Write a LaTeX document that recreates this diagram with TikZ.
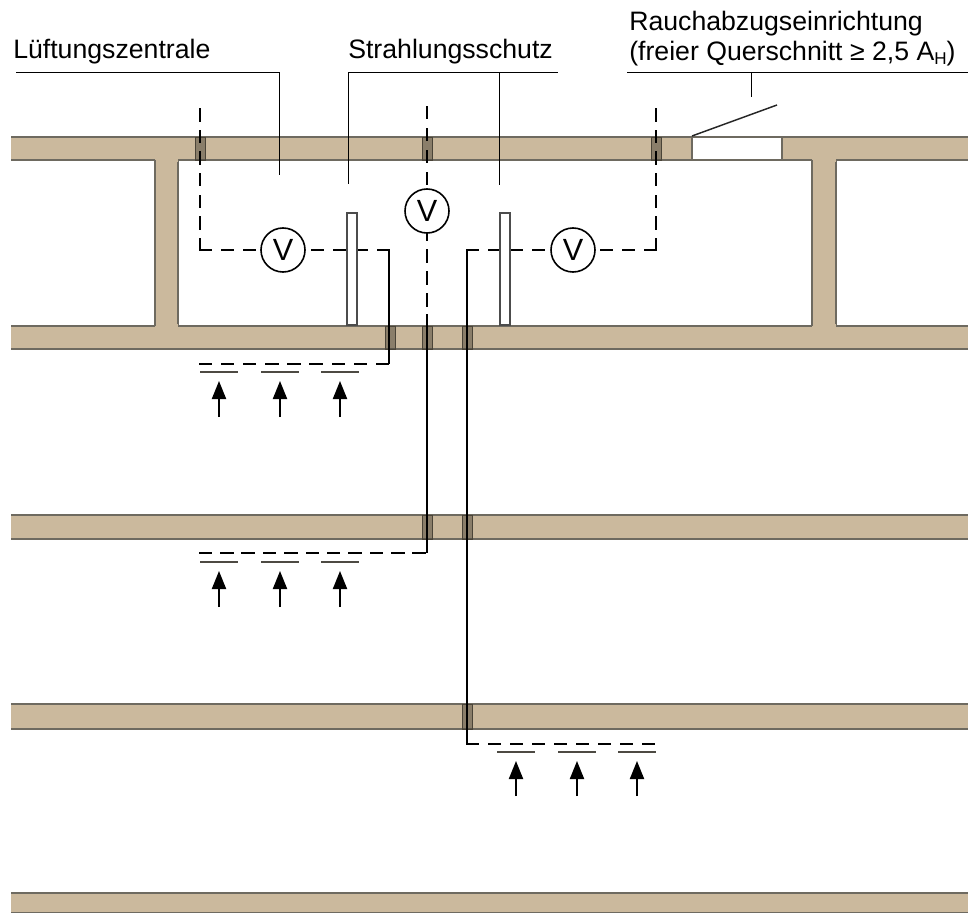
\documentclass[tikz,border=0pt]{standalone}
\usepackage{fontspec}
\setmainfont{Liberation Sans}
\usetikzlibrary{arrows.meta}
\definecolor{beton}{HTML}{cbb99d}
\definecolor{kante}{HTML}{6e6a60}
\definecolor{huelse}{HTML}{4a4438}

\begin{document}
\begin{tikzpicture}[x=0.75pt,y=-0.75pt,
        kante/.style={draw=kante,line width=0.9pt},
        beschriftung/.style={anchor=base west,inner sep=0pt,font=\fontsize{20}{22.5}\selectfont},
        hinweis/.style={draw=black,line width=0.75pt},
        kanal/.style={draw=black,line width=1.9pt},
        strang/.style={kanal,line cap=rect,dash pattern=on 8.2pt off #1},
        strang/.default=8.3pt,
        ventilator/.style={circle,draw=black,line width=1.2pt,minimum size=33pt,inner sep=0pt,font=\fontsize{23}{23}\selectfont},
        schutz/.style={draw=black!70,line width=1pt,fill=white},
        einlass/.style={draw=kante!70!black,line width=1.2pt},
        pfeil/.style={draw=black,line width=1.5pt,-{Triangle[length=13.5pt,width=10.5pt]}}]
        \useasboundingbox (0,0) rectangle (968,913);

        % Decken und Waende
        \foreach \a/\b in {137/160,326/349,515/539,704/729,893/913}{
            \fill[beton] (11,\a) rectangle (968,\b);
            \draw[kante] (11,\a) -- (968,\a) (11,\b) -- (968,\b);
        }
        \foreach \a/\b in {155/178,812/836}{
            \fill[beton] (\a,159) rectangle (\b,327);
            \draw[kante] (\a,160) -- (\a,326) (\b,160) -- (\b,326);
            \fill[beton] (\a+0.5,158) rectangle (\b-0.5,162);
            \fill[beton] (\a+0.5,324) rectangle (\b-0.5,328);
        }
        \draw[kante,fill=white] (692,137) rectangle (782,160);

        % Huelsen
        \foreach \x/\a/\b in {200/137/160,427/137/160,656/137/160,390/326/349,427/326/349,467/326/349,427/515/539,467/515/539,467/704/729}{
            \draw[draw=huelse,line width=0.7pt,fill=huelse,fill opacity=0.5] (\x-5,\a) rectangle (\x+5,\b);
        }

        % Ventilatoren und Kanaele
        \node[ventilator] (v1) at (283,250) {V};
        \node[ventilator] (v2) at (427,211) {V};
        \node[ventilator] (v3) at (573,250) {V};

        \coordinate (a1) at (200,107);
        \coordinate (a2) at (427,107);
        \coordinate (a3) at (656,107);
        \coordinate (e1) at (200,250);
        \coordinate (e3) at (656,250);
        \coordinate (k1) at (389,250);
        \coordinate (k2) at (427,314);
        \coordinate (k3) at (467,250);
        \coordinate (d1) at (389,364);
        \coordinate (d2) at (427,553);
        \coordinate (d3) at (467,744);
        \coordinate (s1) at (200,364);
        \coordinate (s2) at (200,553);
        \coordinate (s3) at (656,744);

        \draw[strang=8pt] (e1) -- (a1);
        \draw[strang] (e1) -- (v1);
        \draw[strang,dash phase=11.8pt] (v1) -- (k1);
        \draw[kanal] (k1) -- (d1);
        \draw[strang=8.4pt] (s1) -- (d1);
        \draw[strang] (a2) -- (v2);
        \draw[strang,dash phase=3.9pt] (v2) -- (k2);
        \draw[kanal] (k2) -- (d2);
        \draw[strang=7.83pt] (s2) -- (d2);
        \draw[strang=8pt] (e3) -- (a3);
        \draw[strang] (e3) -- (v3);
        \draw[strang] (k3) -- (v3);
        \draw[kanal] (k3) -- (d3);
        \draw[strang] (d3) -- (s3);

        % Strahlungsschutz
        \draw[schutz] (347,213) rectangle (357,325);
        \draw[schutz] (500,213) rectangle (510,325);

        % Einlaesse
        \foreach \x/\a/\b in {219/372/417,280/372/417,340/372/417,219/562/607,280/562/607,340/562/607,516/752/796,577/752/796,637/752/796}{
            \draw[einlass] (\x-19,\a) -- (\x+19,\a);
            \coordinate (p\x\a) at (\x,\b);
            \coordinate (q\x\a) at (\x,\a+9);
            \draw[pfeil] (p\x\a) -- (q\x\a);
        }

        % Rauchabzug
        \coordinate (r1) at (692,136);
        \coordinate (r2) at (777,105);
        \draw[draw=black!85,line width=1.1pt] (r1) -- (r2);

        % Beschriftung
        \node[beschriftung] (lz) at (13,59) {Lüftungszentrale};
        \node[beschriftung] (st) at (348,59) {Strahlungsschutz};
        \node[beschriftung] (ra) at (629,31) {Rauchabzugseinrichtung};
        \node[beschriftung] (rb) at (629,61) {(freier Querschnitt ≥ 2,5 A\raisebox{-3pt}{\fontsize{12.8}{12.8}\selectfont H})};

        \coordinate (h1) at (16,73);
        \coordinate (h2) at (279,73);
        \coordinate (h3) at (279,175);
        \coordinate (h4) at (348,73);
        \coordinate (h5) at (348,184);
        \coordinate (h6) at (558,73);
        \coordinate (h7) at (499,73);
        \coordinate (h8) at (499,185);
        \coordinate (h9) at (627,73);
        \coordinate (h10) at (968,73);
        \coordinate (h11) at (751,73);
        \coordinate (h12) at (751,97);

        \draw[hinweis] (h1) -- (h2) -- (h3);
        \draw[hinweis] (h5) -- (h4) -- (h6);
        \draw[hinweis] (h7) -- (h8);
        \draw[hinweis] (h9) -- (h10);
        \draw[hinweis] (h11) -- (h12);
    \end{tikzpicture}
\end{document}
